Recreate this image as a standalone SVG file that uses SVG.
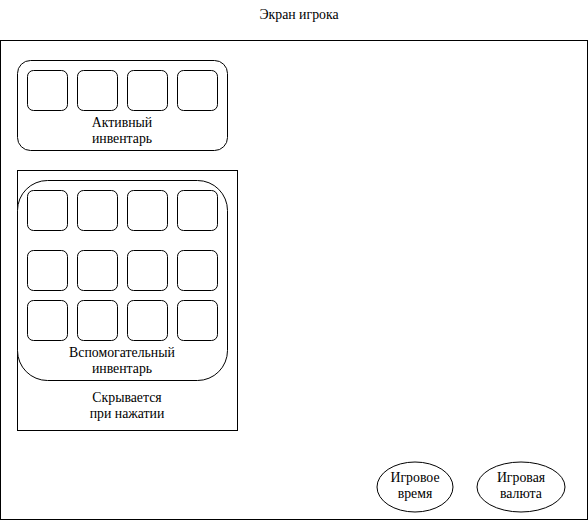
<svg xmlns="http://www.w3.org/2000/svg" width="588" height="521" viewBox="0 0 588 521">
<style>
.s{fill:#fff;stroke:#000;stroke-width:1}
.c{fill:#fff;stroke:#000;stroke-width:1}
text{font-family:"Liberation Serif","Times New Roman",serif;font-size:13.8px;fill:#000;text-anchor:middle}
</style>
<defs>
<rect id="cell" width="40" height="40" rx="6" ry="6" class="c"/>
</defs>
<g id="screen">
<rect x="0.5" y="40.5" width="587" height="479" class="s"/>
<text x="299" y="19">Экран игрока</text>
</g>
<g id="active-inventory">
<rect x="17.5" y="60.5" width="210" height="90" rx="13" ry="13" class="s"/>
<use href="#cell" x="27.5" y="70.5"/>
<use href="#cell" x="77.5" y="70.5"/>
<use href="#cell" x="127.5" y="70.5"/>
<use href="#cell" x="177.5" y="70.5"/>
<text x="122" y="127">Активный</text>
<text x="122" y="143">инвентарь</text>
</g>
<g id="hidden-panel">
<rect x="17.5" y="170.5" width="220" height="260" class="s"/>
<text x="127" y="402">Скрывается</text>
<text x="127" y="418">при нажатии</text>
</g>
<g id="aux-inventory">
<rect x="17.5" y="180.5" width="210" height="200" rx="30" ry="30" class="s"/>
<use href="#cell" x="27.5" y="190.5"/>
<use href="#cell" x="77.5" y="190.5"/>
<use href="#cell" x="127.5" y="190.5"/>
<use href="#cell" x="177.5" y="190.5"/>
<use href="#cell" x="27.5" y="250.5"/>
<use href="#cell" x="77.5" y="250.5"/>
<use href="#cell" x="127.5" y="250.5"/>
<use href="#cell" x="177.5" y="250.5"/>
<use href="#cell" x="27.5" y="300.5"/>
<use href="#cell" x="77.5" y="300.5"/>
<use href="#cell" x="127.5" y="300.5"/>
<use href="#cell" x="177.5" y="300.5"/>
<text x="122" y="357">Вспомогательный</text>
<text x="122" y="373">инвентарь</text>
</g>
<g id="game-time">
<ellipse cx="415" cy="487" rx="38" ry="25" class="s"/>
<text x="415" y="482">Игровое</text>
<text x="415" y="498">время</text>
</g>
<g id="game-currency">
<ellipse cx="521" cy="487" rx="44" ry="25" class="s"/>
<text x="521" y="482">Игровая</text>
<text x="521" y="498">валюта</text>
</g>
<g id="connectors"></g>
</svg>
